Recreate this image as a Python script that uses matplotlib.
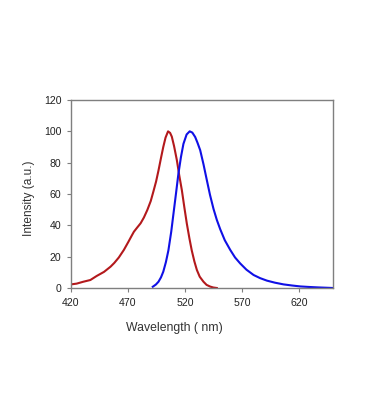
import matplotlib
matplotlib.use("Agg")
import matplotlib.pyplot as plt

# Excitation (red) spectrum
ex_wl = [420, 425, 430.8, 437, 442.6, 449, 454.7, 458, 462, 466.4, 470.4, 473, 475.2, 478, 481.1,
         484, 487, 490, 492.3, 494.7, 496.8, 499, 501, 503, 505.2, 507, 508.5, 510.5, 512.9,
         515, 517.3, 519.5, 521.7, 524, 526, 528.3, 530.5, 533, 536.3, 539, 542.2, 545, 548]
ex_int = [2.3, 2.8, 4, 5.1, 7.7, 10.3, 13.6, 16, 19.5, 24.3, 29.5, 33, 35.9, 38.5, 41.3,
          45, 49.8, 55.5, 61.5, 68, 75, 83, 90, 96, 100, 99, 96.6, 90.5, 81.7,
          72, 62.5, 51.5, 41, 31.5, 24, 17, 11.5, 7.2, 4, 2, 0.9, 0.3, 0]

# Emission (blue) spectrum
em_wl = [491.8, 494.5, 496.8, 499, 501, 503.3, 505.5, 508, 510, 512.2, 514.3, 516.5, 518.7,
         521.5, 524.2, 526.5, 529, 531, 533.4, 536.3, 539.2, 542, 545.1, 548, 551, 555,
         559.8, 564, 568.5, 574, 580.3, 586, 592, 599, 606.6, 614, 621.3, 628, 636, 643, 650]
em_int = [0.8, 2.2, 4, 6.8, 10.4, 16.5, 24, 36, 47.7, 60.5, 73, 83.5, 92,
          98, 100, 99.2, 96.4, 92.8, 88, 79, 69, 59.5, 50.5, 43.5, 37.5, 30.5,
          24.3, 19.5, 15.7, 11.7, 8.3, 6.3, 4.7, 3.4, 2.3, 1.6, 1, 0.7, 0.4, 0.2, 0]

xticks = [420, 470, 520, 570, 620]
yticks = [0, 20, 40, 60, 80, 100, 120]

plt.rcParams['font.family'] = ['Liberation Sans', 'DejaVu Sans']

fig = plt.figure(figsize=(3.67, 4.2), dpi=100)
ax = fig.add_axes([71/367, 1-288/420, (333-71)/367, (288-100)/420])

ax.plot(ex_wl, ex_int, color='#b3191c', lw=1.5, solid_joinstyle='round')
ax.plot(em_wl, em_int, color='#1010e6', lw=1.5, solid_joinstyle='round')

ax.set_xlim(420, 650)
ax.set_ylim(0, 120)
ax.set_xticks(xticks)
ax.set_yticks(yticks)
ax.tick_params(labelsize=7.6, colors='#222222', length=3, width=0.8, direction='out', pad=4)
ax.tick_params(axis='x', color='#7f7f7f')
ax.tick_params(axis='y', color='#7f7f7f')
for s in ax.spines.values():
    s.set_color('#7f7f7f')
    s.set_linewidth(1.0)

fig.text(174/367, 1-328/420, 'Wavelength ( nm)', ha='center', va='center', fontsize=8.8, color='#333333')
fig.text(29/367, 1-198/420, 'Intensity (a.u.)', ha='center', va='center', rotation=90, fontsize=8.6, color='#333333')

fig.savefig('out.png', dpi=100)
